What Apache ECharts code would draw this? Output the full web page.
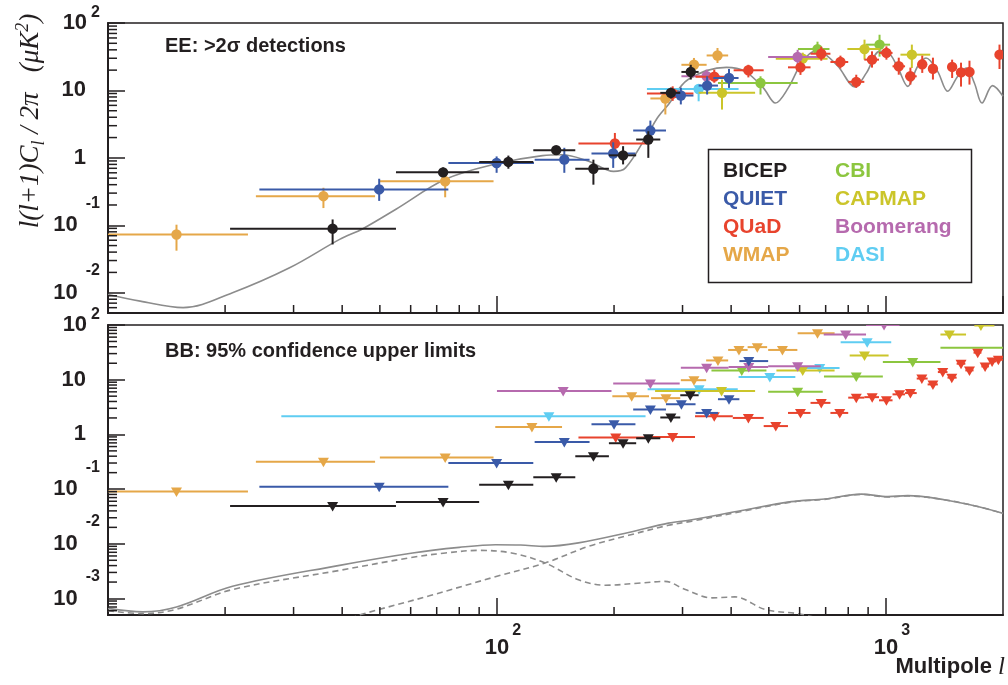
<!DOCTYPE html>
<html><head><meta charset="utf-8">
<script src="https://cdn.jsdelivr.net/npm/echarts/dist/echarts.min.js"></script>
<style>html,body{margin:0;padding:0;background:#fff}#c{width:1008px;height:685px}</style>
</head><body><div id="c"></div>
<script>
// ---------------- DATA ----------------
// EE detections: [l, value, l_low, l_high, value_low, value_high]
const BICEP_EE = [[37.8,0.089,20.6,55,0.052,0.122],[72.7,0.61,55,90,0.53,0.72],[107,0.87,90,124,0.69,1.08],[142,1.30,124,159,1.12,1.49],[177,0.69,159,194,0.40,0.94],[211,1.09,194,228,0.80,1.49],[245,1.87,228,263,1.0,2.48],[280,9.2,263,296,7.6,11],[315,18.8,298,330,14.5,24]];
const QUIET_EE = [[49.8,0.34,24.5,75,0.23,0.49],[99.8,0.84,75,124.5,0.60,1.05],[149,0.94,125,173,0.60,1.41],[199,1.16,175,227,0.71,1.70],[248,2.54,224,272,1.87,3.57],[297,8.4,283,320,6.2,11],[347,11.8,330,370,8.7,16.2],[395,15.3,360,418,10.9,20.8]];
const QUAD_EE = [[201,1.63,162,243,1.16,2.34],[283,9.0,243,320,7.0,11.5],[362,16,324,391,13,20.3],[443,19.9,406,485,15.6,24],[603,22,560,640,17,27],[682,35,640,720,27.6,44.5],[764,26.4,720,800,21.2,32.8],[839,13.4,800,880,10.9,17.1],[921,28.6,880,960,21.8,38],[1003,36,960,1040,28.6,45],[1079,22.8,1040,1120,17.1,30.6],[1156,16.2,1120,1200,12.2,21.8],[1240,24.4,1220,1260,18.2,32.8],[1321,21,1300,1340,14.5,30.6],[1480,22.3,1460,1500,15.3,28.6],[1560,18.5,1540,1580,11.4,25.8],[1640,18.8,1620,1660,12.2,27.6],[1959,33.9,1940,1980,20.8,47.8]];
const WMAP_EE = [[15,0.073,10,22.9,0.042,0.102],[35.8,0.27,24,48.6,0.18,0.36],[73.6,0.45,50,98,0.26,0.55],[271,7.6,248,282,4.4,9.2],[321,24,298,346,19.2,30.3],[369,33,346,393,25.5,42.6]];
const CBI_EE = [[476,12.9,370,593,8.7,16.2],[667,41,594,716,30.6,52.8],[963,47.7,888,1025,31.7,67]];
const CAPMAP_EE = [[379,9.2,330,461,5.2,14.5],[611,29.6,521,708,23.3,36.3],[881,41,796,965,28.6,56.6],[1166,33.9,1090,1300,21.5,47.8]];
const BOOM_EE = [[346,16.2,298,374,13.1,20.3],[593,31.3,498,680,24,40]];
const DASI_EE = [[330,10.5,243,418,6.9,12.2]];

// BB 95% upper limits: [l, limit, l_low, l_high]
const BICEP_BB = [[37.8,0.049,20.6,55],[72.7,0.058,55,90],[107,0.12,90,124],[142,0.165,124,159],[177,0.40,159,194],[211,0.69,194,228],[245,0.85,228,263],[280,2.04,263,296],[314,5.2,296,330]];
const QUIET_BB = [[49.8,0.111,24.5,75],[99.8,0.30,75,124],[149,0.73,125,173],[200,1.54,175,227],[248,2.85,224,272],[298,3.56,272,324],[346,2.47,324,370],[395,4.4,370,420],[444,21.9,420,498]];
const QUAD_BB = [[202,0.88,162,243],[283,0.90,243,323],[362,2.15,323,404],[443,2.0,404,485],[521,1.42,485,560],[603,2.47,560,640],[682,3.77,640,720],[761,2.47,720,800],[839,4.7,800,880],[922,4.8,880,960],[1003,4.2,960,1040],[1084,5.4,1040,1120],[1156,5.7,1120,1200],[1237,10.5,1200,1280],[1321,8.2,1280,1360],[1400,13.8,1360,1440],[1477,10.9,1440,1520],[1560,19.6,1520,1600],[1640,14.8,1600,1680],[1722,31.2,1680,1760],[1799,17.5,1760,1840],[1875,21.6,1840,1920],[1946,23.2,1920,2000]];
const WMAP_BB = [[15,0.090,10,22.9],[35.8,0.317,24,48.6],[73.6,0.38,50,98],[123,1.37,99,147],[222,5.0,198,246],[272,4.6,249,296],[321,9.8,297,345],[370,22.5,345,393],[419,35,393,441],[467,39.4,441,495],[542,35,498,592],[667,71,593,738]];
const CBI_BB = [[426,14.8,356,493],[593,6.0,498,688],[839,11.5,693,982],[1172,21,982,1381],[2300,38.5,1381,3800]];
const CAPMAP_BB = [[378,6.2,255,461],[611,14.8,523,738],[881,27.8,807,1016],[1456,67,1381,1607],[1755,98,1688,1901]];
const BOOM_BB = [[148,6.2,100,197],[248,8.5,199,295],[346,16.6,297,394],[444,17,394,498],[593,17.7,498,680],[788,67,692,889],[989,100,889,1084]];
const DASI_BB = [[136,2.15,27.9,241],[331,6.7,244,416],[503,11.2,418,585],[676,16.3,585,760],[895,48.6,765,1032]];

// Theory curves [l, value]
const EE_MODEL = [[10,0.0094],[12.1,0.0075],[15.6,0.006],[20.9,0.01],[29.3,0.0234],[39.4,0.0617],[45.2,0.089],[55,0.173],[73.7,0.48],[99.2,0.81],[131,1.08],[147,1.11],[172,0.89],[199.5,0.63],[214,0.71],[245,2.34],[260,4.1],[276,6.2],[310,14.5],[389,22],[434,19.2],[484,10.9],[520,6.5],[561,10.9],[607,25.5],[656,38],[689,36],[753,22.8],[832,11.3],[891,18.2],[963,38],[1012,36.7],[1074,21.5],[1138,11.5],[1207,22.8],[1268,30.3],[1358,19.2],[1441,9.7],[1530,16.2],[1608,21.5],[1688,12.9],[1766,6.5],[1880,11.8],[2000,8.2]];
const BB_TOTAL = [[10,6.6e-4],[12.3,5.7e-4],[15,7.0e-4],[20.9,1.67e-3],[39.4,4.04e-3],[60.7,6.8e-3],[80,8.6e-3],[99.2,9.6e-3],[115,9.5e-3],[133,8.98e-3],[162,0.0104],[218,0.0161],[276,0.0239],[317,0.0275],[426,0.0406],[571,0.059],[696,0.066],[865,0.081],[1012,0.073],[1138,0.076],[1413,0.064],[1722,0.048],[2000,0.036]];
const BB_TENSOR = [[10,6.0e-4],[12.3,5.3e-4],[15,6.4e-4],[20.9,1.46e-3],[39.4,3.27e-3],[60,5.6e-3],[73.7,6.8e-3],[90,7.6e-3],[109,6.8e-3],[133,4.47e-3],[162,2.2e-3],[190,1.75e-3],[230,1.9e-3],[270,2.06e-3],[305,1.46e-3],[357,1.03e-3],[409,1.07e-3],[489,6.3e-4],[593,5.3e-4],[660,4.5e-4]];
const BB_LENS = [[42,4.3e-4],[44.7,5.1e-4],[67,1.12e-3],[99,2.5e-3],[133,4.47e-3],[172,9.0e-3],[218,0.0143],[276,0.0218],[317,0.026],[426,0.039],[571,0.058],[696,0.065],[865,0.080],[1012,0.072],[1138,0.075],[1413,0.064],[1722,0.048],[2000,0.036]];

// Axis ticks
const X_MINOR = [20,30,40,50,60,70,80,90,200,300,400,500,600,700,800,900];
const MINOR_MULT = [2,3,4,5,6,7,8,9];
const DECADES_TOP = [0.001,0.01,0.1,1,10];
const DECADES_BOT = [0.0001,0.001,0.01,0.1,1,10];

// ---------------- STYLE ----------------
const COLORS = {BICEP:'#231f20', QUIET:'#3a5aa8', QUaD:'#e8432d', WMAP:'#e5a748', CBI:'#8cc63f', CAPMAP:'#cbc52a', Boomerang:'#b66aae', DASI:'#5fcdf2'};
const INK = '#231f20';
const GRAY = '#8c8c8c';
const SANS = '"Liberation Sans", Arial, sans-serif';
const SERIF = '"Liberation Serif", "Times New Roman", serif';
const YMIN_TOP = 0.005, YMIN_BOT = 0.0005, XMIN = 10, XMAX = 2000;

function minorList(decades, lo) {
  const out = [];
  decades.forEach(d => MINOR_MULT.forEach(m => { const v = +(m * d).toPrecision(3); if (v > lo && v < 100) out.push(v); }));
  return out;
}

function eeSeries(name, data) {
  const c = COLORS[name];
  return {type:'custom', name, xAxisIndex:0, yAxisIndex:0, data, clip:true, encode:{x:0, y:1}, itemStyle:{color:c}, z:3,
    renderItem:(p, api) => {
      const pt = api.coord([api.value(0), api.value(1)]);
      const a = api.coord([api.value(2), api.value(1)]);
      const b = api.coord([api.value(3), api.value(1)]);
      const lo = api.coord([api.value(0), api.value(4)]);
      const hi = api.coord([api.value(0), api.value(5)]);
      return {type:'group', children:[
        {type:'line', shape:{x1:a[0], y1:pt[1], x2:b[0], y2:pt[1]}, style:{stroke:c, lineWidth:2}},
        {type:'line', shape:{x1:pt[0], y1:lo[1], x2:pt[0], y2:hi[1]}, style:{stroke:c, lineWidth:2}},
        {type:'circle', shape:{cx:pt[0], cy:pt[1], r:5.2}, style:{fill:c}}
      ]};
    }};
}
function bbSeries(name, data) {
  const c = COLORS[name];
  return {type:'custom', name, xAxisIndex:1, yAxisIndex:1, data, clip:true, encode:{x:0, y:1}, itemStyle:{color:c}, z:3,
    renderItem:(p, api) => {
      const pt = api.coord([api.value(0), api.value(1)]);
      const a = api.coord([api.value(2), api.value(1)]);
      const b = api.coord([api.value(3), api.value(1)]);
      const x = pt[0], y = pt[1];
      return {type:'group', children:[
        {type:'line', shape:{x1:a[0], y1:y, x2:b[0], y2:y}, style:{stroke:c, lineWidth:2}},
        {type:'polygon', shape:{points:[[x-5.5,y-4],[x+5.5,y-4],[x,y+5.5]]}, style:{fill:c}}
      ]};
    }};
}
function curve(name, data, xi, dashed) {
  return {type:'line', name, xAxisIndex:xi, yAxisIndex:xi, data, showSymbol:false, smooth:0.35, silent:true, z:1,
    lineStyle:{color:GRAY, width:1.6, type: dashed ? [6,4] : 'solid'}};
}
function xTicks(gi, ymin) {
  return {type:'custom', name:'xt'+gi, xAxisIndex:gi, yAxisIndex:gi, silent:true, z:6, data:X_MINOR.map(l => [l, ymin]),
    renderItem:(p, api) => { const c = api.coord([api.value(0), api.value(1)]);
      return {type:'line', shape:{x1:c[0], y1:c[1], x2:c[0], y2:c[1]-8}, style:{stroke:INK, lineWidth:1.5}}; }};
}
function yTicks(gi, vals) {
  return {type:'custom', name:'yt'+gi, xAxisIndex:gi, yAxisIndex:gi, silent:true, z:6, data:vals.map(v => [XMIN, v]),
    renderItem:(p, api) => { const c = api.coord([api.value(0), api.value(1)]);
      return {type:'line', shape:{x1:c[0], y1:c[1], x2:c[0]+9, y2:c[1]}, style:{stroke:INK, lineWidth:1.5}}; }};
}

const LB = {fontSize:22, fontWeight:'bold', fontFamily:SANS, color:INK};
const RICH_Y = {
  b0:Object.assign({}, LB, {lineHeight:22}),
  bp:Object.assign({}, LB, {lineHeight:36}),
  bn:Object.assign({}, LB, {lineHeight:60}),
  s:{fontSize:16, fontWeight:'bold', fontFamily:SANS, color:INK, verticalAlign:'top', lineHeight:16, padding:[0,0,0,4]},
  sn:{fontSize:16, fontWeight:'bold', fontFamily:SANS, color:INK, verticalAlign:'top', lineHeight:16, padding:[0,0,0,8]},
  pad:{width:14, fontSize:10}
};
const RICH_X = {
  lp:{width:12, fontSize:10},
  bx:Object.assign({}, LB, {lineHeight:50}),
  sx:{fontSize:16, fontWeight:'bold', fontFamily:SANS, color:INK, verticalAlign:'top', lineHeight:16, padding:[0,0,0,3]}
};
function isPow(v) { const e = Math.log10(v); return Math.abs(e - Math.round(e)) < 1e-6; }
function yFmt(v) {
  if (!isPow(v)) return '';
  const e = Math.round(Math.log10(v));
  if (e === 0) return '{b0|1}{pad| }';
  if (e === 1) return '{b0|10}{pad| }';
  if (e > 1) return '{bp|10}{s|' + e + '}';
  return '{bn|10}{sn|' + e + '}';
}
function xFmt(v) {
  if (!isPow(v)) return '';
  const e = Math.round(Math.log10(v));
  if (e <= 1) return '';
  return '{lp| }{bx|10}{sx|' + e + '}';
}
function xAxisDef(gi, labels) {
  return {type:'log', logBase:10, gridIndex:gi, min:XMIN, max:XMAX,
    axisLine:{show:true, lineStyle:{color:INK, width:2}},
    axisTick:{show:true, inside:true, length:17, lineStyle:{color:INK, width:1.5}},
    axisLabel:{show:labels, formatter:xFmt, rich:RICH_X, margin:8, showMaxLabel:false, showMinLabel:false},
    splitLine:{show:false}, minorTick:{show:false}};
}
function yAxisDef(gi, ymin) {
  return {type:'log', logBase:10, gridIndex:gi, min:ymin, max:100,
    axisLine:{show:true, lineStyle:{color:INK, width:2}},
    axisTick:{show:true, inside:true, length:17, lineStyle:{color:INK, width:1.5}},
    axisLabel:{show:true, formatter:yFmt, rich:RICH_Y, margin:8},
    splitLine:{show:false}, minorTick:{show:false}};
}

const legendText = {fontSize:21, fontWeight:'bold', fontFamily:SANS, lineHeight:21};
function legendDef(left, names) {
  return {orient:'vertical', left, top:161, itemGap:7, itemWidth:0, itemHeight:0, padding:0, selectedMode:false,
    textStyle:legendText, data:names.map(n => ({name:n, textStyle:{color:COLORS[n]}}))};
}

const chart = echarts.init(document.getElementById('c'), null, {renderer:'canvas'});
chart.setOption({
  animation:false,
  backgroundColor:'#fff',
  textStyle:{fontFamily:SANS},
  grid:[
    {left:108, right:5, top:23, height:290, show:true, borderColor:INK, borderWidth:1.5, containLabel:false, outerBoundsMode:'none'},
    {left:108, right:5, top:325, height:290, show:true, borderColor:INK, borderWidth:1.5, containLabel:false, outerBoundsMode:'none'}
  ],
  xAxis:[xAxisDef(0, false), xAxisDef(1, true)],
  yAxis:[yAxisDef(0, YMIN_TOP), yAxisDef(1, YMIN_BOT)],
  legend:[legendDef(718, ['BICEP','QUIET','QUaD','WMAP']), legendDef(830, ['CBI','CAPMAP','Boomerang','DASI'])],
  graphic:[
    {type:'rect', left:706, top:147, shape:{width:263, height:133}, style:{fill:'none', stroke:INK, lineWidth:1.5}, z:10},
    {type:'text', left:165, top:36, style:{text:'EE: >2σ detections', font:'bold 20px ' + SANS, fill:INK}, z:10},
    {type:'text', left:165, top:341, style:{text:'BB: 95% confidence upper limits', font:'bold 20px ' + SANS, fill:INK}, z:10},
    {type:'text', x:31, y:121, rotation:Math.PI/2, z:10, style:{
      text:'{i|l(l+1)C}{sub|l}{i| / 2π   (μK}{sup|2}{i|)}', align:'center', verticalAlign:'middle',
      rich:{i:{font:'italic 27px ' + SERIF, fill:INK, lineHeight:34},
            sub:{font:'italic 18px ' + SERIF, fill:INK, verticalAlign:'bottom', lineHeight:18},
            sup:{font:'italic 18px ' + SERIF, fill:INK, verticalAlign:'top', lineHeight:18}}}},
    {type:'text', x:1005, y:667, z:10, style:{
      text:'{m|Multipole }{l|l}', align:'right', verticalAlign:'middle',
      rich:{m:{font:'bold 22px ' + SANS, fill:INK}, l:{font:'italic 25px ' + SERIF, fill:INK}}}}
  ],
  series:[
    curve('EE model', EE_MODEL, 0, false),
    curve('BB total', BB_TOTAL, 1, false),
    curve('BB tensor', BB_TENSOR, 1, true),
    curve('BB lensing', BB_LENS, 1, true),
    eeSeries('WMAP', WMAP_EE), eeSeries('DASI', DASI_EE), eeSeries('CBI', CBI_EE), eeSeries('CAPMAP', CAPMAP_EE),
    eeSeries('Boomerang', BOOM_EE), eeSeries('QUaD', QUAD_EE), eeSeries('QUIET', QUIET_EE), eeSeries('BICEP', BICEP_EE),
    bbSeries('WMAP', WMAP_BB), bbSeries('DASI', DASI_BB), bbSeries('CBI', CBI_BB), bbSeries('CAPMAP', CAPMAP_BB),
    bbSeries('Boomerang', BOOM_BB), bbSeries('QUaD', QUAD_BB), bbSeries('QUIET', QUIET_BB), bbSeries('BICEP', BICEP_BB),
    xTicks(0, YMIN_TOP), xTicks(1, YMIN_BOT),
    yTicks(0, minorList(DECADES_TOP, YMIN_TOP)), yTicks(1, minorList(DECADES_BOT, YMIN_BOT))
  ]
});
</script></body></html>
